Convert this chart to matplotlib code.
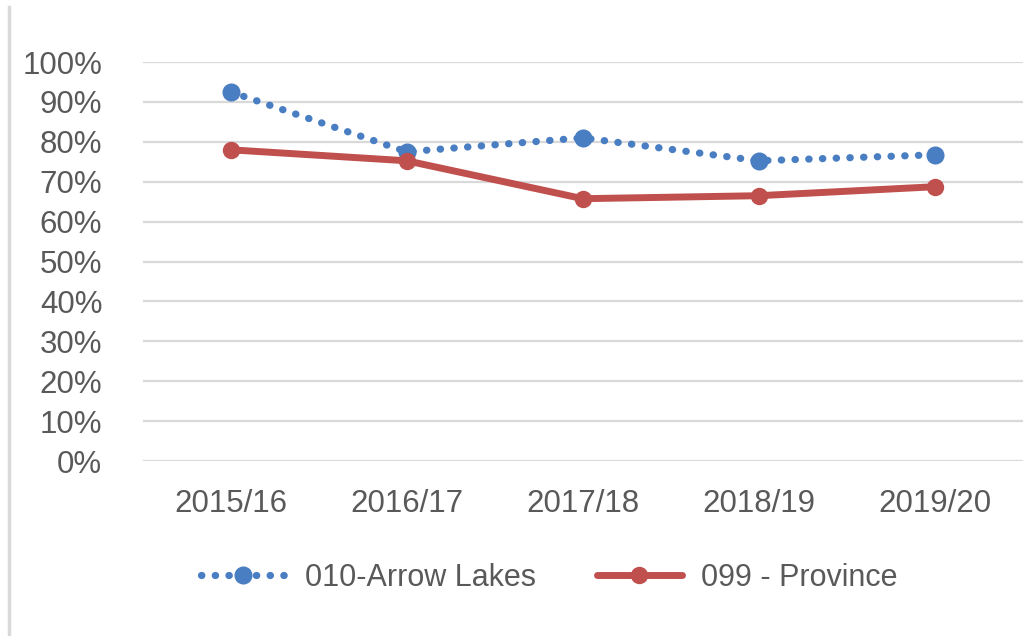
import matplotlib
matplotlib.use("Agg")
import matplotlib.pyplot as plt
from matplotlib.lines import Line2D
from matplotlib.ticker import MultipleLocator, PercentFormatter

plt.rcParams["font.family"] = ["Liberation Sans Narrow", "Liberation Sans", "DejaVu Sans"]

# --- data -------------------------------------------------------------------
years = ["2015/16", "2016/17", "2017/18", "2018/19", "2019/20"]
arrow_lakes = [0.925, 0.775, 0.81, 0.7525, 0.7675]
province = [0.78, 0.7525, 0.6575, 0.665, 0.6875]

BLUE = "#4A7EC2"
RED = "#C0504D"
GRID = "#D9D9D9"
TEXT = "#595959"

fig = plt.figure(figsize=(10.26, 6.36), dpi=100)
ax = fig.add_axes([0.139, 0.275, 0.858, 0.6275])

x = range(len(years))
ax.plot(x, arrow_lakes, color=BLUE, lw=5.2, linestyle=(0, (0.05, 1.85)),
        dash_capstyle="round", marker="o", ms=12, label="010-Arrow Lakes", zorder=3)
ax.plot(x, province, color=RED, lw=5, solid_capstyle="round",
        marker="o", ms=11.5, label="099 - Province", zorder=3)

ax.set_xlim(-0.5, len(years) - 0.5)
ax.set_ylim(0, 1)
ax.yaxis.set_major_locator(MultipleLocator(0.1))
ax.yaxis.set_major_formatter(PercentFormatter(1.0, decimals=0))
ax.set_xticks(list(x))
ax.set_xticklabels(years)
ax.grid(axis="y", color=GRID, lw=1.6)
ax.set_axisbelow(True)
for s in ax.spines.values():
    s.set_visible(False)
ax.tick_params(length=0, labelsize=22.5, labelcolor=TEXT)
ax.tick_params(axis="y", pad=29)
ax.tick_params(axis="x", pad=20)

fig.legend(loc="center", bbox_to_anchor=(0.535, 0.091), ncol=2, frameon=False,
           fontsize=22, labelcolor=TEXT, handlelength=2.8, handletextpad=0.6,
           columnspacing=2.0)

# light frame edge on the left
fig.add_artist(Line2D([0.009, 0.009], [0, 1 - 7 / 636], color=GRID, lw=2.5))

fig.savefig("out.png", dpi=100)
